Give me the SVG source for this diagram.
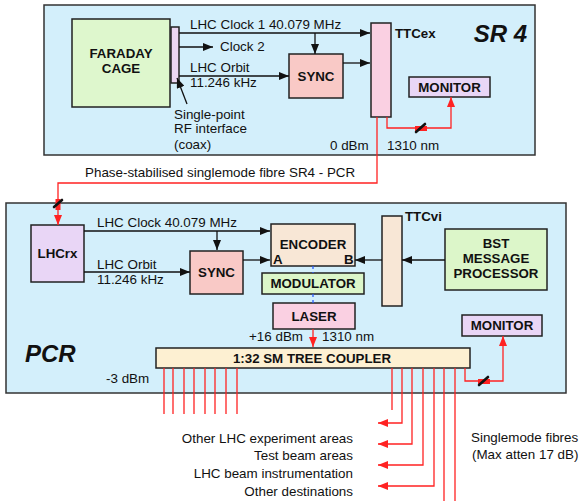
<svg xmlns="http://www.w3.org/2000/svg" width="584" height="501" viewBox="0 0 584 501">
<style>
text{font-family:"Liberation Sans",Arial,sans-serif;font-size:13.4px;fill:#111}
.b{font-weight:bold;font-size:13.3px}
.big{font-size:24px;font-weight:bold;font-style:italic}
.area{fill:#d3effb;stroke:#333;stroke-width:1.5}
.n{stroke:#222;stroke-width:1.5}
.k{fill:none;stroke:#111;stroke-width:1.3}
.r{fill:none;stroke:#f22;stroke-width:1.3}
.bl{fill:none;stroke:#2a5cff;stroke-width:1.3;stroke-dasharray:3,3}
.sl{stroke:#111;stroke-width:2.6;stroke-linecap:round}
.rs{fill:#f22}
</style>
<defs>
<marker id="ab" markerUnits="userSpaceOnUse" markerWidth="11" markerHeight="8" refX="10" refY="4" orient="auto"><path d="M0,0L10,4L0,8z" fill="#111"/></marker>
<marker id="ar" markerUnits="userSpaceOnUse" markerWidth="11" markerHeight="8" refX="10" refY="4" orient="auto"><path d="M0,0L10,4L0,8z" fill="#f22"/></marker>
</defs>
<rect width="584" height="501" fill="#fff"/>
<g id="sr4">
<rect class="area" x="44" y="5" width="491" height="150"/>
<text class="big" x="527" y="42" text-anchor="end">SR 4</text>
</g>
<g id="pcr">
<rect class="area" x="6" y="203" width="560" height="190"/>
<text class="big" x="25" y="362">PCR</text>
</g>
<g id="faraday">
<rect class="n" x="72" y="19" width="98" height="88" fill="#def7cd"/>
<text class="b" x="121" y="58" text-anchor="middle">FARADAY</text>
<text class="b" x="121" y="73" text-anchor="middle">CAGE</text>
</g>
<g id="rfif">
<rect class="n" x="171" y="27" width="8" height="56" fill="#ebd6f2"/>
<text x="174" y="119">Single-point</text>
<text x="174" y="133">RF interface</text>
<text x="174" y="149">(coax)</text>
</g>
<g id="sync1">
<rect class="n" x="289" y="54" width="54" height="44" fill="#f9c9c6"/>
<text class="b" x="316" y="81" text-anchor="middle">SYNC</text>
</g>
<g id="ttcex">
<rect class="n" x="371" y="23" width="20" height="94" fill="#fad0e2"/>
<text class="b" x="395" y="38">TTCex</text>
</g>
<g id="monitor1">
<rect class="n" x="409" y="77" width="81" height="20" fill="#e9d6f6"/>
<text class="b" x="449.5" y="92" text-anchor="middle">MONITOR</text>
</g>
<g id="lhcrx">
<rect class="n" x="31" y="225" width="53" height="57" fill="#e9d6f6"/>
<text class="b" x="57.5" y="258" text-anchor="middle">LHCrx</text>
</g>
<g id="sync2">
<rect class="n" x="190" y="251" width="53" height="43" fill="#f9c9c6"/>
<text class="b" x="216.5" y="277" text-anchor="middle">SYNC</text>
</g>
<g id="encoder">
<rect class="n" x="271" y="224" width="84" height="42" fill="#f8e7d6"/>
<text class="b" x="313" y="249" text-anchor="middle">ENCODER</text>
<text class="b" x="273" y="264">A</text>
<text class="b" x="344" y="264">B</text>
</g>
<g id="modulator">
<rect class="n" x="262" y="273" width="102" height="21" fill="#dcf6c9"/>
<text class="b" x="313" y="288" text-anchor="middle">MODULATOR</text>
</g>
<g id="laser">
<rect class="n" x="273" y="303" width="82" height="26" fill="#fad0e2"/>
<text class="b" x="314" y="321" text-anchor="middle">LASER</text>
</g>
<g id="coupler">
<rect class="n" x="156" y="348" width="314" height="20" fill="#fdf0d2"/>
<text class="b" x="312" y="363" text-anchor="middle">1:32 SM TREE COUPLER</text>
</g>
<g id="ttcvi">
<rect class="n" x="382" y="216" width="20" height="90" fill="#f8e7d6"/>
<text class="b" x="405" y="221">TTCvi</text>
</g>
<g id="bst">
<rect class="n" x="445" y="229" width="102" height="61" fill="#dcf6c9"/>
<text class="b" x="496" y="248" text-anchor="middle">BST</text>
<text class="b" x="496" y="263" text-anchor="middle">MESSAGE</text>
<text class="b" x="496" y="278" text-anchor="middle">PROCESSOR</text>
</g>
<g id="monitor2">
<rect class="n" x="462" y="315" width="80" height="21" fill="#e9d6f6"/>
<text class="b" x="502" y="330" text-anchor="middle">MONITOR</text>
</g>
<g id="connectors">
<path class="k" d="M179,33H370" marker-end="url(#ab)"/>
<path class="k" d="M315,33V54" marker-end="url(#ab)"/>
<path class="k" d="M179,47H213" marker-end="url(#ab)"/>
<path class="k" d="M179,76H289" marker-end="url(#ab)"/>
<path class="k" d="M343,63H370" marker-end="url(#ab)"/>
<path class="k" d="M187,104L177,78" marker-end="url(#ab)"/>
<path class="r" d="M387,117V128H451V97" marker-end="url(#ar)"/>
<path class="r" d="M377,117V183H58V225" marker-end="url(#ar)"/>
<path class="k" d="M84,231H270" marker-end="url(#ab)"/>
<path class="k" d="M217,231V250" marker-end="url(#ab)"/>
<path class="k" d="M84,272H190" marker-end="url(#ab)"/>
<path class="k" d="M243,260H270" marker-end="url(#ab)"/>
<path class="k" d="M382,260H355" marker-end="url(#ab)"/>
<path class="k" d="M445,260H402" marker-end="url(#ab)"/>
<path class="bl" d="M313,266V273M313,294V303"/>
<path class="r" d="M313,329V347" marker-end="url(#ar)"/>
<path class="r" d="M465,368V381H503V336" marker-end="url(#ar)"/>
<path class="r" d="M164,368V414M173,368V414M184,368V414M194,368V414M205,368V414M215,368V414M226,368V414M237,368V414"/>
<path class="r" d="M392,368V410M444,368V501M455,368V501"/>
<path class="r" d="M402,368V423H378" marker-end="url(#ar)"/>
<path class="r" d="M412,368V444H378" marker-end="url(#ar)"/>
<path class="r" d="M423,368V465H378" marker-end="url(#ar)"/>
<path class="r" d="M434,368V486H378" marker-end="url(#ar)"/>
<rect class="rs" x="415" y="126" width="12" height="5"/>
<path class="sl" d="M416,132L425,124"/>
<rect class="rs" x="478" y="379" width="12" height="5"/>
<path class="sl" d="M479,385L488,377"/>
<rect class="rs" x="55.5" y="199" width="5" height="11"/>
<path class="sl" d="M54,207L62,200"/>
</g>
<g id="labels">
<text x="190" y="29">LHC Clock 1 40.079 MHz</text>
<text x="220" y="51">Clock 2</text>
<text x="190" y="72">LHC Orbit</text>
<text x="190" y="87">11.246 kHz</text>
<text x="330" y="150">0 dBm</text>
<text x="387" y="150">1310 nm</text>
<text x="85" y="177">Phase-stabilised singlemode fibre SR4 - PCR</text>
<text x="97" y="227">LHC Clock 40.079 MHz</text>
<text x="97" y="269">LHC Orbit</text>
<text x="97" y="284">11.246 kHz</text>
<text x="249" y="341">+16 dBm</text>
<text x="322" y="341">1310 nm</text>
<text x="106" y="383">-3 dBm</text>
<text x="353" y="443" text-anchor="end">Other LHC experiment areas</text>
<text x="353" y="460" text-anchor="end">Test beam areas</text>
<text x="353" y="478" text-anchor="end">LHC beam instrumentation</text>
<text x="353" y="496" text-anchor="end">Other destinations</text>
<text x="471" y="442">Singlemode fibres</text>
<text x="472" y="459">(Max atten 17 dB)</text>
</g>
</svg>
